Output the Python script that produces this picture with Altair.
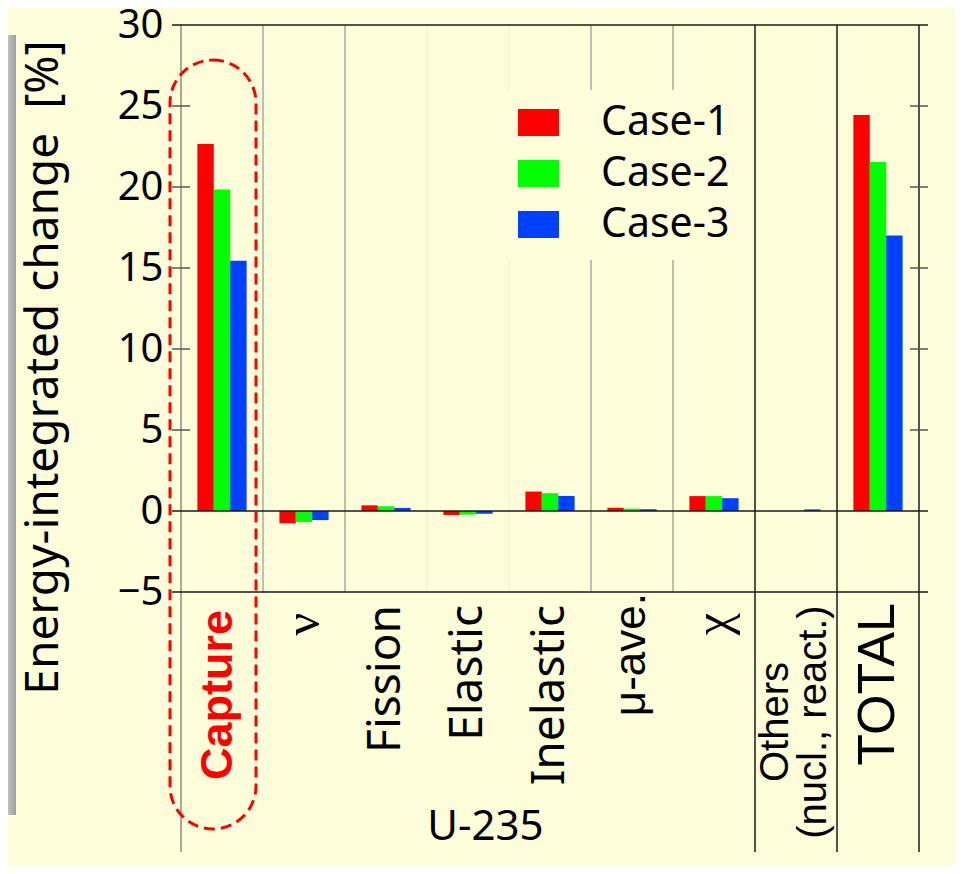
import altair as alt
import pandas as pd

# ---------------- data ----------------
categories = ["Capture", "ν", "Fission", "Elastic", "Inelastic", "μ-ave.", "χ", "Others", "TOTAL"]
label_texts = ["Capture", "ν", "Fission", "Elastic", "Inelastic", "μ-ave.", "χ",
               "Others\n(nucl., react.)", "TOTAL"]
cases = ["Case-1", "Case-2", "Case-3"]
case1 = [22.65, -0.76, 0.35, -0.25, 1.20, 0.20, 0.92, 0.00, 24.45]
case2 = [19.85, -0.68, 0.29, -0.22, 1.10, 0.15, 0.92, 0.00, 21.55]
case3 = [15.45, -0.56, 0.19, -0.17, 0.93, 0.11, 0.79, 0.10, 17.00]
case_colors = ["#FF0000", "#00FF00", "#0040FF"]
y_ticks = [-5, 0, 5, 10, 15, 20, 25, 30]
inner_ticks = [5, 10, 15, 20, 25]
frame_lines = [30, 0, -5]
sep_gray = ["ν", "Fission", "μ-ave.", "χ"]
sep_faint = ["Elastic", "Inelastic"]
sep_black = ["Others", "TOTAL"]

BG = "#FDFDD9"

rows = []
for i, c in enumerate(categories):
    for case, vals in zip(cases, [case1, case2, case3]):
        rows.append({"cat": c, "case": case, "value": vals[i]})
bars_df = pd.DataFrame(rows)
label_df = pd.DataFrame({"cat": categories, "text": label_texts})

x_scale = alt.Scale(domain=categories, paddingInner=0, paddingOuter=0)
y_scale = alt.Scale(domain=[-5, 30], nice=False, zero=False)

x_axis = alt.Axis(labels=False, ticks=False, domain=False, grid=False,
                  title="U-235", titleFont="Noto Sans", titleFontSize=42,
                  titleFontWeight="normal", titleColor="black",
                  titleX=304, titleY=234, titleAlign="center",
                  titleBaseline="middle")
y_axis = alt.Axis(values=y_ticks, ticks=False, domain=False, grid=False,
                  labelFont="Noto Sans", labelFontSize=40, labelColor="black",
                  labelPadding=18,
                  title="Energy-integrated change\u00a0 [%]",
                  titleFont="Noto Sans", titleFontSize=46,
                  titleFontWeight="normal", titleColor="black",
                  titleX=-138, titleY=342, titleAngle=270,
                  titleAlign="center", titleBaseline="middle")

def X(**kw):
    return alt.X("cat:N", scale=x_scale, sort=categories, axis=x_axis, **kw)

def Y(field):
    return alt.Y(field, scale=y_scale, axis=y_axis)

# ---------------- decorations ----------------
strip = alt.Chart(pd.DataFrame({"a": [0]})).mark_rect(
    fill=alt.Gradient(gradient="linear", x1=0, x2=1, y1=0, y2=0,
                      stops=[alt.GradientStop(offset=0, color="#e0e0e0"),
                             alt.GradientStop(offset=1, color="#a0a0a0")])
).encode(x=alt.value(-181), x2=alt.value(-165), y=alt.value(10), y2=alt.value(790))

def vrule(cats, color, width, bottom_px, band_pos=0):
    return alt.Chart(pd.DataFrame({"cat": cats})).mark_rule(
        color=color, strokeWidth=width).encode(
        x=X(bandPosition=band_pos), y=alt.value(0), y2=alt.value(bottom_px))

gray_lines = vrule(sep_gray, "#aaaa9e", 1.5, 567)
faint_lines = vrule(sep_faint, "#f1f0cf", 1, 567)
left_axis = vrule(["Capture"], "#8a8a84", 1.5, 827)
black_lines = vrule(sep_black, "#1a1a1a", 1.5, 827)
right_edge = vrule(["TOTAL"], "#1a1a1a", 1.5, 827, band_pos=1)

legend_box = alt.Chart(pd.DataFrame({"a": [0]})).mark_rect(color=BG).encode(
    x=alt.value(312), x2=alt.value(569), y=alt.value(65), y2=alt.value(235))

# ---------------- bars ----------------
bars = alt.Chart(bars_df).mark_bar().encode(
    x=X(),
    xOffset=alt.XOffset("case:N", scale=alt.Scale(domain=cases, paddingInner=0, paddingOuter=1)),
    y=Y("value:Q"),
    color=alt.Color("case:N", scale=alt.Scale(domain=cases, range=case_colors),
                    legend=alt.Legend(orient="none", legendX=337, legendY=77,
                                      title=None,
                                      symbolType="M-1,-0.66H1V0.66H-1Z",
                                      symbolSize=1681, symbolStrokeWidth=0,
                                      symbolOpacity=1,
                                      labelFont="Noto Sans", labelFontSize=41,
                                      labelColor="black", labelOffset=42,
                                      rowPadding=9, padding=0, labelLimit=0)),
)

hlines = alt.Chart(pd.DataFrame({"v": frame_lines})).mark_rule(
    color="#1a1a1a", strokeWidth=1.5).encode(
    y=Y("v:Q"), x=alt.value(-9), x2=alt.value(747))

ticks_df = pd.DataFrame({"v": inner_ticks})
left_ticks = alt.Chart(ticks_df).mark_rule(color="#555555", strokeWidth=1.5).encode(
    y=Y("v:Q"), x=alt.value(-9), x2=alt.value(9))
right_ticks = alt.Chart(ticks_df).mark_rule(color="#555555", strokeWidth=1.5).encode(
    y=Y("v:Q"), x=alt.value(729), x2=alt.value(747))

stadium = alt.Chart(pd.DataFrame({"a": [0]})).mark_rect(
    fillOpacity=0, stroke="#FF0000", strokeWidth=3, strokeDash=[11, 6], cornerRadius=43
).encode(x=alt.value(-11), x2=alt.value(75), y=alt.value(35), y2=alt.value(804))

# ---------------- category labels ----------------
def labels(cats, ypx, align="right", **kw):
    return alt.Chart(label_df).transform_filter(
        alt.FieldOneOfPredicate(field="cat", oneOf=cats)
    ).mark_text(angle=270, align=align, baseline="middle", **kw).encode(
        x=X(),
        y=alt.value(ypx),
        text="text:N",
    )

lab_capture = labels(["Capture"], 585, font="Liberation Sans", fontSize=45,
                     fontWeight="bold", color="#FF0000", dy=-4)
lab_gothic = labels(["Fission", "Elastic", "Inelastic"], 580, font="Noto Sans",
                    fontSize=46, color="black")
lab_greek = labels(["ν", "χ"], 588, font="Liberation Serif", fontSize=50, color="black")
lab_mu = labels(["μ-ave."], 568, font="Liberation Sans", fontSize=44, color="black")
lab_total = labels(["TOTAL"], 578, font="Liberation Sans", fontSize=52, color="black")
lab_others = labels(["Others"], 697, align="center", font="Liberation Sans", fontSize=40,
                    color="black", lineBreak="\n", lineHeight=38, dy=-20)

chart = alt.layer(
    strip, faint_lines, gray_lines, left_axis, black_lines, right_edge, legend_box,
    bars, hlines, left_ticks, right_ticks, stadium,
    lab_capture, lab_gothic, lab_greek, lab_mu, lab_total, lab_others,
).properties(
    width=738, height=567,
    autosize=alt.AutoSizeParams(type="none"),
    padding={"left": 173, "top": 17, "right": 36, "bottom": 274},
).configure(background=BG).configure_view(stroke=None)

chart.save("out.html", embed_options={"renderer": "svg", "actions": False})
